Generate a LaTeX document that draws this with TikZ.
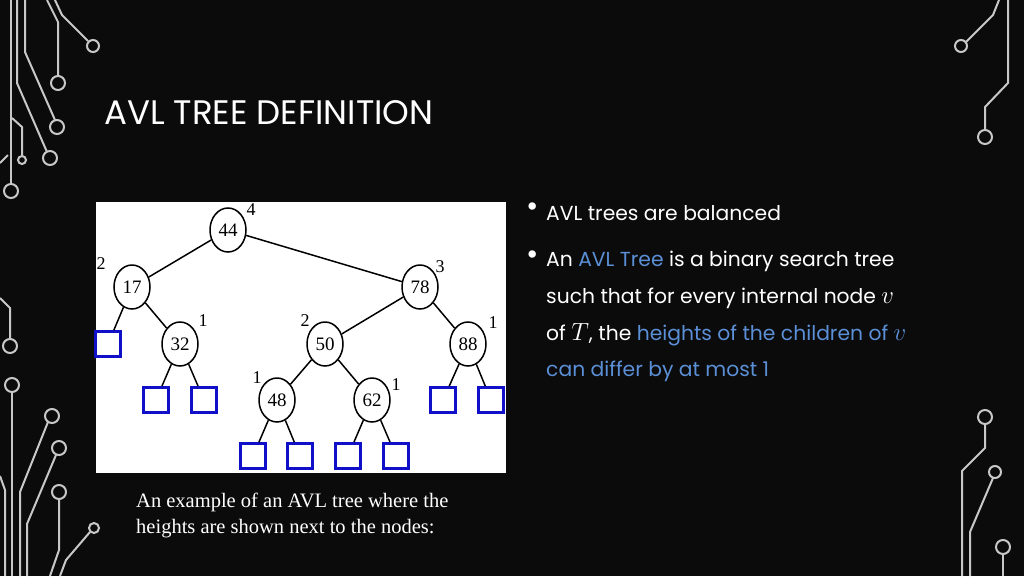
\documentclass[tikz,border=0pt]{standalone}
\usepackage{fontspec}
\setmainfont{Poppins}
\newfontfamily\serif{Liberation Serif}
\usetikzlibrary{shapes.geometric}
\definecolor{bg}{HTML}{0B0B0B}
\definecolor{wire}{HTML}{C8C8C8}
\definecolor{hl}{HTML}{5B8FD6}
\definecolor{leafblue}{HTML}{1010C8}
\newcommand{\mv}[1]{{\fontsize{25}{22}\selectfont$#1$}}
\tikzset{
  wirel/.style={draw=wire,line width=2pt},
  pad/.style={draw=wire,line width=2pt},
  tnode/.style={ellipse,draw,line width=1.5pt,minimum width=36pt,minimum height=44pt,inner sep=0pt,font=\serif\fontsize{19}{19}\selectfont},
  leaf/.style={draw=leafblue,line width=2.6pt,minimum size=25pt,inner sep=0pt},
  hgt/.style={font=\serif\fontsize{18}{18}\selectfont,inner sep=0pt},
  edge/.style={line width=1.5pt},
  btext/.style={anchor=west,text=white,inner sep=0pt,font=\fontsize{20.3}{22}\selectfont},
  bul/.style={text=white,font=\fontsize{30}{30}\selectfont,inner sep=0pt},
}
\begin{document}
\begin{tikzpicture}[x=1pt,y=-1pt]
\fill[bg] (0,0) rectangle (1024,576);
\useasboundingbox (0,0) rectangle (1024,576);
% circuit decorations top-left
\draw[wirel] (11,0)--(11,184); \draw[pad] (11,191) circle (7);
\draw[wirel] (17,0)--(17,83)--(47,152); \draw[pad] (50,158) circle (7);
\draw[wirel] (25,0)--(25,52)--(55,120); \draw[pad] (57,127) circle (7);
\draw[wirel] (47,0)--(58,22)--(58,76); \draw[pad] (58,83) circle (7);
\draw[wirel] (55,0)--(62,15)--(88,41); \draw[pad] (93,46) circle (6);
\draw[wirel] (12,118)--(22,127)--(22,156); \draw[pad] (22,160) circle (4);
\draw[wirel] (0,163)--(8,155);
% top-right
\draw[wirel] (999,0)--(993,15)--(966,42); \draw[pad] (961,46) circle (6);
\draw[wirel] (1008,0)--(1008,83)--(985,107)--(985,130); \draw[pad] (985,137) circle (7);
% bottom-left
\draw[wirel] (0,298)--(10,308)--(10,339); \draw[pad] (10,346) circle (7);
\draw[pad] (12,385) circle (7); \draw[wirel] (12,392)--(12,576);
\draw[pad] (52,416) circle (7); \draw[wirel] (48,422)--(20,492)--(20,576);
\draw[pad] (59,448) circle (7); \draw[wirel] (56,455)--(27,524)--(27,576);
\draw[pad] (59,492) circle (7); \draw[wirel] (59,499)--(59,550)--(50,576);
\draw[pad] (94,528) circle (5); \draw[wirel] (90,532)--(66,560)--(60,576);
\draw[wirel] (0,476)--(5,490)--(5,576);
% bottom-right
\draw[pad] (985,417) circle (7); \draw[wirel] (985,424)--(985,448)--(962,471)--(962,576);
\draw[pad] (995,472) circle (6); \draw[wirel] (993,478)--(970,532)--(970,576);
\draw[pad] (1003,547) circle (7); \draw[wirel] (1003,554)--(1003,576);
% title
\node[anchor=west,text=white,inner sep=0pt,font=\fontsize{34}{36}\selectfont] (title) at (104,113) {AVL TREE DEFINITION};
% tree panel
\fill[white] (96,202) rectangle (506,473);
\node[tnode] (n44) at (228,230) {44};
\node[tnode] (n17) at (132,287) {17};
\node[tnode] (n78) at (420,287) {78};
\node[tnode] (n32) at (180,344) {32};
\node[tnode] (n50) at (325,344) {50};
\node[tnode] (n88) at (468,344) {88};
\node[tnode] (n48) at (277,400) {48};
\node[tnode] (n62) at (372,400) {62};
\node[leaf] (l1) at (108,344) {};
\node[leaf] (l2) at (156,400) {};
\node[leaf] (l3) at (204,400) {};
\node[leaf] (l4) at (443,400) {};
\node[leaf] (l5) at (491,400) {};
\node[leaf] (l6) at (253,456) {};
\node[leaf] (l7) at (300,456) {};
\node[leaf] (l8) at (348,456) {};
\node[leaf] (l9) at (396,456) {};
\draw[edge] (n44)--(n17); \draw[edge] (n44)--(n78);
\draw[edge] (n17)--(l1); \draw[edge] (n17)--(n32);
\draw[edge] (n32)--(l2); \draw[edge] (n32)--(l3);
\draw[edge] (n78)--(n50); \draw[edge] (n78)--(n88);
\draw[edge] (n88)--(l4); \draw[edge] (n88)--(l5);
\draw[edge] (n50)--(n48); \draw[edge] (n50)--(n62);
\draw[edge] (n48)--(l6); \draw[edge] (n48)--(l7);
\draw[edge] (n62)--(l8); \draw[edge] (n62)--(l9);
\node[hgt] (h44) at (251,210) {4};
\node[hgt] (h17) at (101,264) {2};
\node[hgt] (h78) at (440,267) {3};
\node[hgt] (h32) at (203,321) {1};
\node[hgt] (h50) at (305,321) {2};
\node[hgt] (h88) at (493,323) {1};
\node[hgt] (h48) at (257,378) {1};
\node[hgt] (h62) at (396,385) {1};
% caption
\node[anchor=north west,text=white,inner sep=0pt,align=left,font=\serif\fontsize{20.5}{26}\selectfont] (cap) at (136,493) {An example of an AVL tree where the\\heights are shown next to the nodes:};
% bullets
\node[bul] (b1) at (533,210) {•};
\node[bul] (b2) at (533,258) {•};
\node[btext] (t1) at (546,213) {AVL trees are balanced};
\node[btext] (t2) at (546,261) {An \textcolor{hl}{AVL Tree} is a binary search tree};
\node[btext] (t3) at (546,298) {such that for every internal node \mv{v}};
\node[btext] (t4) at (546,335) {of \mv{T}, the \textcolor{hl}{heights of the children of \mv{v}}};
\node[btext,text=hl] (t5) at (546,371) {can differ by at most 1};
\end{tikzpicture}
\end{document}
